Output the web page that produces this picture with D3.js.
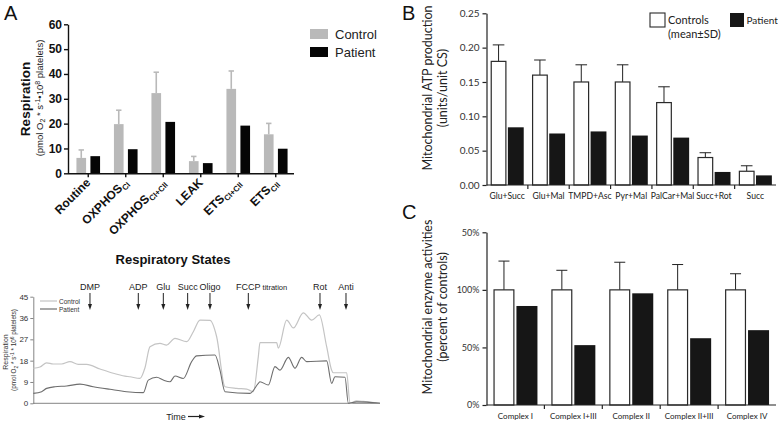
<!DOCTYPE html>
<html><head><meta charset="utf-8">
<script src="https://cdn.jsdelivr.net/npm/d3@7"></script>
<style>body{margin:0;background:#fff} svg{display:block}</style>
</head><body>
<svg id="c" width="778" height="422"></svg>
<script>
// ---------- DATA ----------
// Panel A (top): respiration
const catsA = ["Routine","OXPHOS","OXPHOS","LEAK","ETS","ETS"];
const subsA = ["","CI","CI+CII","","CI+CII","CII"];
const seriesA = ["Control","Patient"];
const controlA = [6.2,19.8,32.3,4.9,34.0,15.7];
const controlAErr = [3.2,5.6,8.4,1.9,7.2,4.4];
const patientA = [6.9,9.7,20.7,4.1,19.2,9.9];
const ticksA = [0,10,20,30,40,50,60];

// Panel A (bottom): respiratory trace (time in arbitrary units)
const traceTimeControl = [10,12,14,16,18.5,21,23.5,26,30,34,37.5,39,42,43.5,45,48,50,52.5,56,58,60,63,65,67.5,71,74,76,77.5,78,83,83.5,86,88,91,93.5,95.8,98,99.5,100,104,105,107,109,111,114];
const traceControl     = [14.8,15.3,17.1,16.6,16.6,17.6,16.4,16.4,14.5,12.7,11.5,11.2,10.5,15,23.9,25.3,24.6,27.4,26,30.2,35.1,35,28.1,7,6.3,6,4.9,19.7,25.6,25.6,23.3,35.1,31.8,38.2,35.1,37.3,23.9,14,12.9,12.9,0,1,0.8,0.5,0];
const traceTimePatient = [10,12.5,14,16.5,20,24,28,33,38,43,44.5,47,49,51,52.5,55,57.5,59,64.5,66,67.5,75,77.5,78,80.5,82.5,84,86.5,88.5,90.5,92,98,99.5,100.5,103.5,104.5,107,110,114];
const tracePatient     = [4.2,4.9,6.3,7,7.3,8.1,7,5.9,4.9,4.5,9.8,11,9.8,9.1,11.5,10.5,17.6,20,20.4,14,4.9,4.2,8.4,9.1,7.7,15.5,14,19.4,14.8,19.4,17.6,17.9,8.4,11.2,11,0,0.6,0.5,0];
const traceTicks = [0,9,18,27,36,45];
const eventNames = ["DMP","ADP","Glu","Succ","Oligo","FCCP","Rot","Anti"];
const eventSuffix = ["","","","","","titration","",""];
const eventTimes = [27,41.5,49,56.3,63,74.5,96,103.8];

// Panel B: ATP production
const catsB = ["Glu+Succ","Glu+Mal","TMPD+Asc","Pyr+Mal","PalCar+Mal","Succ+Rot","Succ"];
const controlB = [0.18,0.16,0.15,0.15,0.12,0.04,0.02];
const controlBErr = [0.024,0.022,0.025,0.025,0.023,0.007,0.008];
const patientB = [0.084,0.075,0.078,0.072,0.069,0.019,0.014];
const ticksB = [0,0.05,0.10,0.15,0.20,0.25];

// Panel C: enzyme activities
const catsC = ["Complex I","Complex I+III","Complex II","Complex II+III","Complex IV"];
const controlC = [100,100,100,100,100];
const controlCErr = [25,17,24,22,14];
const patientC = [86,52,97,58,65];
const ticksC = [0,50,100,150];
const tickLabelsC = ["0%","50%","100%","50%"];

// ---------- DRAW ----------
const svg = d3.select("#c");
const FA = "'Liberation Sans', Arial, Helvetica, sans-serif";
const FB = "Lato, 'Open Sans', sans-serif";

function panelLabel(t,x,y){
  svg.append("text").attr("x",x).attr("y",y).text(t)
    .style("font-family",FA).style("font-size","20px").style("fill","#111");
}
panelLabel("A",4,20); panelLabel("B",402,20); panelLabel("C",402,219);

// ===== Panel A top =====
{
  const g = svg.append("g");
  const x = d3.scaleBand().domain(d3.range(catsA.length)).range([69.5,294.5]).paddingInner(0.37).paddingOuter(0.185);
  const xi = d3.scaleBand().domain(seriesA).range([0,x.bandwidth()]).paddingInner(0.31);
  const y = d3.scaleLinear().domain([0,60]).range([173.3,24.3]);
  const grey = "#b9b9b9";

  d3.range(catsA.length).forEach(i=>{
    const cx = x(i)+xi("Control"), px = x(i)+xi("Patient"), w = xi.bandwidth();
    const c = cx + w/2;
    g.append("line").attr("x1",c).attr("x2",c).attr("y1",y(controlA[i])).attr("y2",y(controlA[i]+controlAErr[i]))
      .attr("stroke",grey).attr("stroke-width",1.6);
    g.append("line").attr("x1",c-2.7).attr("x2",c+2.7).attr("y1",y(controlA[i]+controlAErr[i])).attr("y2",y(controlA[i]+controlAErr[i]))
      .attr("stroke",grey).attr("stroke-width",1.6);
    g.append("rect").attr("x",cx).attr("width",w).attr("y",y(controlA[i])).attr("height",y(0)-y(controlA[i])).attr("fill",grey);
    g.append("rect").attr("x",px).attr("width",w).attr("y",y(patientA[i])).attr("height",y(0)-y(patientA[i])).attr("fill","#050505");
  });

  const ay = g.append("g").attr("transform","translate(68,0)")
    .call(d3.axisLeft(y).tickValues(ticksA).tickSize(4).tickSizeOuter(0).tickPadding(2));
  ay.selectAll("text").style("font-family",FA).style("font-weight","bold").style("font-size","12px").style("fill","#111");
  ay.selectAll("line,path").attr("stroke","#111").attr("stroke-width",1.4);

  const ax = g.append("g").attr("transform",`translate(0,${y(0)})`)
    .call(d3.axisBottom(x).tickSize(4).tickSizeOuter(0).tickFormat(""));
  ax.select("path").attr("d","M68,0.5H294");
  ax.selectAll("line,path").attr("stroke","#111").attr("stroke-width",1.4);

  d3.range(catsA.length).forEach(i=>{
    const c = x(i)+x.bandwidth()/2;
    const t = g.append("text").attr("transform",`translate(${c+3},${y(0)+10}) rotate(-45)`)
      .attr("text-anchor","end").style("font-family",FA).style("font-weight","bold").style("font-size","12px").style("fill","#111");
    t.append("tspan").text(catsA[i]);
    if(subsA[i]) t.append("tspan").attr("dy",3).style("font-size","8px").text(subsA[i]);
  });

  const lg = g.append("g");
  seriesA.forEach((s,k)=>{
    lg.append("rect").attr("x",310).attr("y",29+k*18).attr("width",18).attr("height",10).attr("fill",k?"#050505":grey);
    lg.append("text").attr("x",335).attr("y",38.5+k*18).text(s).style("font-family",FA).style("font-size","13px").style("fill","#222");
  });

  g.append("text").attr("transform","translate(30,99) rotate(-90)").attr("text-anchor","middle")
    .style("font-family",FA).style("font-weight","bold").style("font-size","13.5px").style("fill","#111").text("Respiration");
  const st = g.append("text").attr("transform","translate(43,98) rotate(-90)").attr("text-anchor","middle")
    .style("font-family",FA).style("font-size","9.5px").style("fill","#222");
  st.append("tspan").text("(pmol O");
  st.append("tspan").attr("dy",2).style("font-size","7px").text("2");
  st.append("tspan").attr("dy",-2).text(" * s");
  st.append("tspan").attr("dy",-3).style("font-size","7px").text("-1");
  st.append("tspan").attr("dy",3).text("\u202210");
  st.append("tspan").attr("dy",-3).style("font-size","7px").text("8");
  st.append("tspan").attr("dy",3).text(" platelets)");
}

// ===== Panel A bottom: trace =====
{
  const g = svg.append("g");
  const x = d3.scaleLinear().domain([10,114]).range([33.3,380]);
  const y = d3.scaleLinear().domain([0,45]).range([403.3,296.7]);
  g.append("text").attr("x",173).attr("y",264).attr("text-anchor","middle")
    .style("font-family",FA).style("font-weight","bold").style("font-size","13px").style("fill","#111").text("Respiratory States");

  const ay = g.append("g").attr("transform","translate(33.3,0)")
    .call(d3.axisLeft(y).tickValues(traceTicks).tickSize(3).tickSizeOuter(0).tickPadding(2));
  ay.selectAll("text").style("font-family",FA).style("font-size","8px").style("fill","#333");
  ay.selectAll("line,path").attr("stroke","#666").attr("stroke-width",0.8);
  g.append("line").attr("x1",x(10)).attr("x2",x(114)).attr("y1",y(0)).attr("y2",y(0)).attr("stroke","#666").attr("stroke-width",0.8);

  const line = d3.line().x(d=>x(d[0])).y(d=>y(d[1])).curve(d3.curveMonotoneX);
  g.append("path").attr("d",line(traceTimeControl.map((t,i)=>[t,traceControl[i]])))
    .attr("fill","none").attr("stroke","#c4c4c4").attr("stroke-width",1.2);
  g.append("path").attr("d",line(traceTimePatient.map((t,i)=>[t,tracePatient[i]])))
    .attr("fill","none").attr("stroke","#6e6e6e").attr("stroke-width",1.1);

  eventNames.forEach((n,i)=>{
    const xx = x(eventTimes[i]);
    const t = g.append("text").attr("x",xx).attr("y",290).attr("text-anchor","middle")
      .style("font-family",FA).style("font-size","9px").style("fill","#222").text(n);
    if(eventSuffix[i]){
      const w = t.node().getComputedTextLength();
      g.append("text").attr("x",xx+w/2+2).attr("y",290).style("font-family",FA).style("font-size","7.5px").style("fill","#222").text(eventSuffix[i]);
    }
    g.append("line").attr("x1",xx).attr("x2",xx).attr("y1",293).attr("y2",305).attr("stroke","#222").attr("stroke-width",1);
    g.append("path").attr("d",`M${xx-2},304L${xx+2},304L${xx},310Z`).attr("fill","#222");
  });

  [["Control","#c4c4c4"],["Patient","#6e6e6e"]].forEach((d,k)=>{
    g.append("line").attr("x1",40).attr("x2",57).attr("y1",301+k*8).attr("y2",301+k*8).attr("stroke",d[1]).attr("stroke-width",1.2);
    g.append("text").attr("x",59).attr("y",303.5+k*8).text(d[0]).style("font-family",FA).style("font-size","6.5px").style("fill","#333");
  });

  g.append("text").attr("transform","translate(7.5,352) rotate(-90)").attr("text-anchor","middle")
    .style("font-family",FA).style("font-size","7px").style("fill","#333").text("Respiration");
  const st = g.append("text").attr("transform","translate(16,350) rotate(-90)").attr("text-anchor","middle")
    .style("font-family",FA).style("font-size","6.3px").style("fill","#333");
  st.append("tspan").text("(pmol O");
  st.append("tspan").attr("dy",1.5).style("font-size","5px").text("2");
  st.append("tspan").attr("dy",-1.5).text(" * s");
  st.append("tspan").attr("dy",-2.5).style("font-size","5px").text("-1");
  st.append("tspan").attr("dy",2.5).text(" * 10");
  st.append("tspan").attr("dy",-2.5).style("font-size","5px").text("6");
  st.append("tspan").attr("dy",2.5).text(" platelets)");

  g.append("text").attr("x",176).attr("y",420).attr("text-anchor","middle")
    .style("font-family",FA).style("font-size","9px").style("fill","#222").text("Time");
  g.append("line").attr("x1",188).attr("x2",200).attr("y1",416.5).attr("y2",416.5).attr("stroke","#222").attr("stroke-width",1.2);
  g.append("path").attr("d","M199,414.5L205,416.5L199,418.5Z").attr("fill","#222");
}

function barPanel(opt){
  const g = svg.append("g");
  const x = d3.scaleBand().domain(opt.cats).range(opt.xr).paddingInner(opt.pin).paddingOuter(opt.pout);
  const xi = d3.scaleBand().domain(["c","p"]).range([0,x.bandwidth()]).paddingInner(opt.pinner);
  const y = d3.scaleLinear().domain(opt.domain).range(opt.yr);
  opt.cats.forEach((cat,i)=>{
    const cx = x(cat)+xi("c"), px = x(cat)+xi("p"), w = xi.bandwidth(), c = cx+w/2;
    const top = opt.ctrl[i]+opt.err[i];
    g.append("line").attr("x1",c).attr("x2",c).attr("y1",y(opt.ctrl[i])).attr("y2",y(top)).attr("stroke","#222").attr("stroke-width",1);
    g.append("line").attr("x1",c-opt.cap).attr("x2",c+opt.cap).attr("y1",y(top)).attr("y2",y(top)).attr("stroke","#222").attr("stroke-width",1);
    g.append("rect").attr("x",cx+0.6).attr("width",w-1.2).attr("y",y(opt.ctrl[i])).attr("height",y(0)-y(opt.ctrl[i]))
      .attr("fill","#fff").attr("stroke","#2a2a2a").attr("stroke-width",1.2);
    g.append("rect").attr("x",px).attr("width",w).attr("y",y(opt.pat[i])).attr("height",y(0)-y(opt.pat[i])).attr("fill","#161616");
    g.append("text").attr("x",x(cat)+x.bandwidth()/2).attr("y",opt.labY).attr("text-anchor","middle")
      .style("font-family",FB).style("font-size",opt.labSize).style("fill","#222").text(cat);
  });
  const ay = g.append("g").attr("transform",`translate(${opt.xr[0]},0)`)
    .call(d3.axisLeft(y).tickValues(opt.ticks).tickSize(4).tickSizeOuter(0).tickPadding(3).tickFormat((d,i)=>opt.tickFmt(d,i)));
  ay.selectAll("text").style("font-family",FB).style("font-size",opt.tickSize).style("fill","#333");
  ay.selectAll("line,path").attr("stroke","#222").attr("stroke-width",1.2);
  g.append("line").attr("x1",opt.xr[0]).attr("x2",opt.xr[1]).attr("y1",y(0)).attr("y2",y(0)).attr("stroke","#222").attr("stroke-width",1.2);
  opt.cats.slice(1).forEach(cat=>{
    const bx = x(cat) - x.step()*opt.pin/2;
    g.append("line").attr("x1",bx).attr("x2",bx).attr("y1",y(0)).attr("y2",y(0)+4).attr("stroke","#222").attr("stroke-width",1.2);
  });
  opt.titles.forEach((t,k)=>{
    g.append("text").attr("transform",`translate(${432+k*15},${opt.titleY}) rotate(-90)`).attr("text-anchor","middle")
      .style("font-family",FB).style("font-size","12.5px").style("fill","#222").text(t);
  });
  return g;
}

// ===== Panel B =====
const gB = barPanel({cats:catsB, xr:[486.5,776], pin:0.2, pout:0.1, pinner:0.08, domain:[0,0.25], yr:[185,13.3],
  ctrl:controlB, err:controlBErr, pat:patientB, cap:5.8, ticks:ticksB, tickFmt:(d)=>d3.format(".2f")(d),
  tickSize:"10px", labY:198.5, labSize:"8.6px", titles:["Mitochondrial ATP production","(units/unit CS)"], titleY:88});
gB.append("rect").attr("x",650).attr("y",13).attr("width",15).attr("height",14).attr("fill","#fff").attr("stroke","#2a2a2a").attr("stroke-width",1.1);
gB.append("text").attr("x",668).attr("y",24).text("Controls").style("font-family",FB).style("font-size","11px").style("fill","#222");
gB.append("text").attr("x",668).attr("y",38).text("(mean\u00b1SD)").style("font-family",FB).style("font-size","11px").style("fill","#222");
gB.append("rect").attr("x",730).attr("y",13).attr("width",14).attr("height",14).attr("fill","#161616");
gB.append("text").attr("x",746.5).attr("y",24).text("Patient").style("font-family",FB).style("font-size","10px").style("fill","#222");

// ===== Panel C =====
barPanel({cats:catsC, xr:[486.5,776], pin:0.24, pout:0.12, pinner:0.086, domain:[0,150], yr:[405,232.3],
  ctrl:controlC, err:controlCErr, pat:patientC, cap:5.5, ticks:ticksC, tickFmt:(d,i)=>tickLabelsC[i],
  tickSize:"9px", labY:419, labSize:"8px", titles:["Mitochondrial enzyme activities","(percent of controls)"], titleY:307});
</script>
</body></html>
